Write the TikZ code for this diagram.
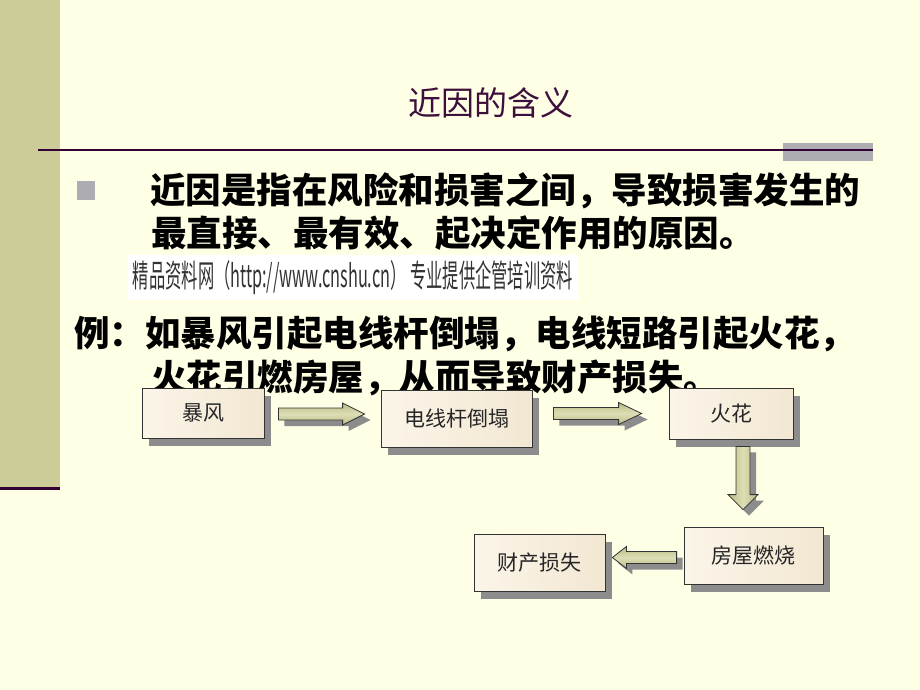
\documentclass[tikz,border=0pt]{standalone}
\usepackage{fontspec}
\newfontfamily\cjk{Noto Sans CJK SC}
\usetikzlibrary{calc,shadows}
\definecolor{bg}{RGB}{255,255,229}
\definecolor{band}{RGB}{204,204,153}
\definecolor{plum}{RGB}{51,0,51}
\definecolor{titlec}{RGB}{60,15,60}
\definecolor{barg}{RGB}{172,172,178}
\definecolor{boxa}{RGB}{251,245,233}
\definecolor{boxb}{RGB}{242,231,210}
\definecolor{arrf}{RGB}{186,186,132}
\definecolor{arrl}{RGB}{222,222,182}
\newcommand\harrpath[3]{($(#1)+(0,-6)$) -- ($(#2)+({-1*(#3)},-6)$) -- ($(#2)+({-1*(#3)},-11)$) -- (#2) -- ($(#2)+({-1*(#3)},11)$) -- ($(#2)+({-1*(#3)},6)$) -- ($(#1)+(0,6)$) -- cycle}
\newcommand\varrpath[3]{($(#1)+(-7,0)$) -- ($(#2)+(-7,{-1*(#3)})$) -- ($(#2)+(-15,{-1*(#3)})$) -- (#2) -- ($(#2)+(15,{-1*(#3)})$) -- ($(#2)+(7,{-1*(#3)})$) -- ($(#1)+(7,0)$) -- cycle}
\newcommand\harrow[3]{%
  \begin{scope}[transform canvas={xshift=6pt,yshift=-6pt}]
    \fill[ashadow] \harrpath{#1}{#2}{#3};
  \end{scope}
  \draw[abody, top color=arrf, bottom color=arrf, middle color=arrl] \harrpath{#1}{#2}{#3};}
\newcommand\varrow[3]{%
  \begin{scope}[transform canvas={xshift=6pt,yshift=-6pt}]
    \fill[ashadow] \varrpath{#1}{#2}{#3};
  \end{scope}
  \draw[abody, left color=arrf, right color=arrf, middle color=arrl] \varrpath{#1}{#2}{#3};}
\begin{document}
\begin{tikzpicture}[x=1pt,y=-1pt,
  box/.style n args={2}{draw=black!80, line width=0.8pt, left color=boxa, right color=boxb,
    minimum width=#1, minimum height=#2, inner sep=0pt,
    font=\cjk\fontsize{21}{24}\selectfont, text=black!85,
    drop shadow={shadow xshift=7pt, shadow yshift=-8pt, fill=black!45, opacity=1}},
  ashadow/.style={fill=black!45},
  abody/.style={draw=black!80, line width=0.8pt},
  body/.style={anchor=base west, inner sep=0pt, font=\cjk\bfseries\fontsize{35.5}{40}\selectfont, text=black}]
\useasboundingbox (0,0) rectangle (920,690);
\fill[bg] (0,0) rectangle (920,690);
\fill[band] (0,0) rectangle (60,490);
\draw[plum, line width=3pt] (0,488.5) -- (60,488.5);
% title
\node[font=\cjk\fontsize{33}{36}\selectfont, text=titlec] (title) at (491,103) {近因的含义};
\fill[barg] (783,143) rectangle (873,161);
\draw[plum, line width=2pt] (38,150) -- (873,150);
\fill[barg] (77,181) rectangle (95,200);
% body text
\node[body] (l1) at (150,203) {近因是指在风险和损害之间，导致损害发生的};
\node[body] (l2) at (151,246) {最直接、最有效、起决定作用的原因。};
\fill[white] (128,255) rectangle (578,300);
\node[inner sep=0pt, text=black!80] (wm) at (353,278) {\resizebox{440pt}{27pt}{\cjk 精品资料网（http://www.cnshu.cn） 专业提供企管培训资料}};
\node[body] (e1) at (74,346) {例：如暴风引起电线杆倒塌，电线短路引起火花，};
\node[body] (e2) at (151,390) {火花引燃房屋，从而导致财产损失。};
% boxes
\node[box={122pt}{50pt}] (b1) at (203,413) {暴风};
\node[box={151pt}{57pt}] (b2) at (456.5,418.5) {电线杆倒塌};
\node[box={124pt}{51pt}] (b3) at (731,413.5) {火花};
\node[box={139pt}{57pt}] (b4) at (753.5,555.5) {房屋燃烧};
\node[box={131pt}{57pt}] (b5) at (539.5,562.5) {财产损失};
% arrows
\coordinate (a1s) at ($(b1.east)+(14,1)$);
\coordinate (a1e) at ($(a1s -| b2.west)+(-16,0)$);
\coordinate (a2s) at ($(b2.east)+(21,-5)$);
\coordinate (a2e) at ($(a2s -| b3.west)+(-27,0)$);
\coordinate (a3s) at ($(b3.south)+(12,7)$);
\coordinate (a3e) at ($(a3s |- b4.north)+(0,-17)$);
\coordinate (a4s) at ($(b4.west)+(-7,2)$);
\coordinate (a4e) at ($(a4s -| b5.east)+(7,0)$);
\harrow{a1s}{a1e}{22}
\harrow{a2s}{a2e}{23}
\varrow{a3s}{a3e}{15}
\harrow{a4s}{a4e}{-14}
\end{tikzpicture}
\end{document}
